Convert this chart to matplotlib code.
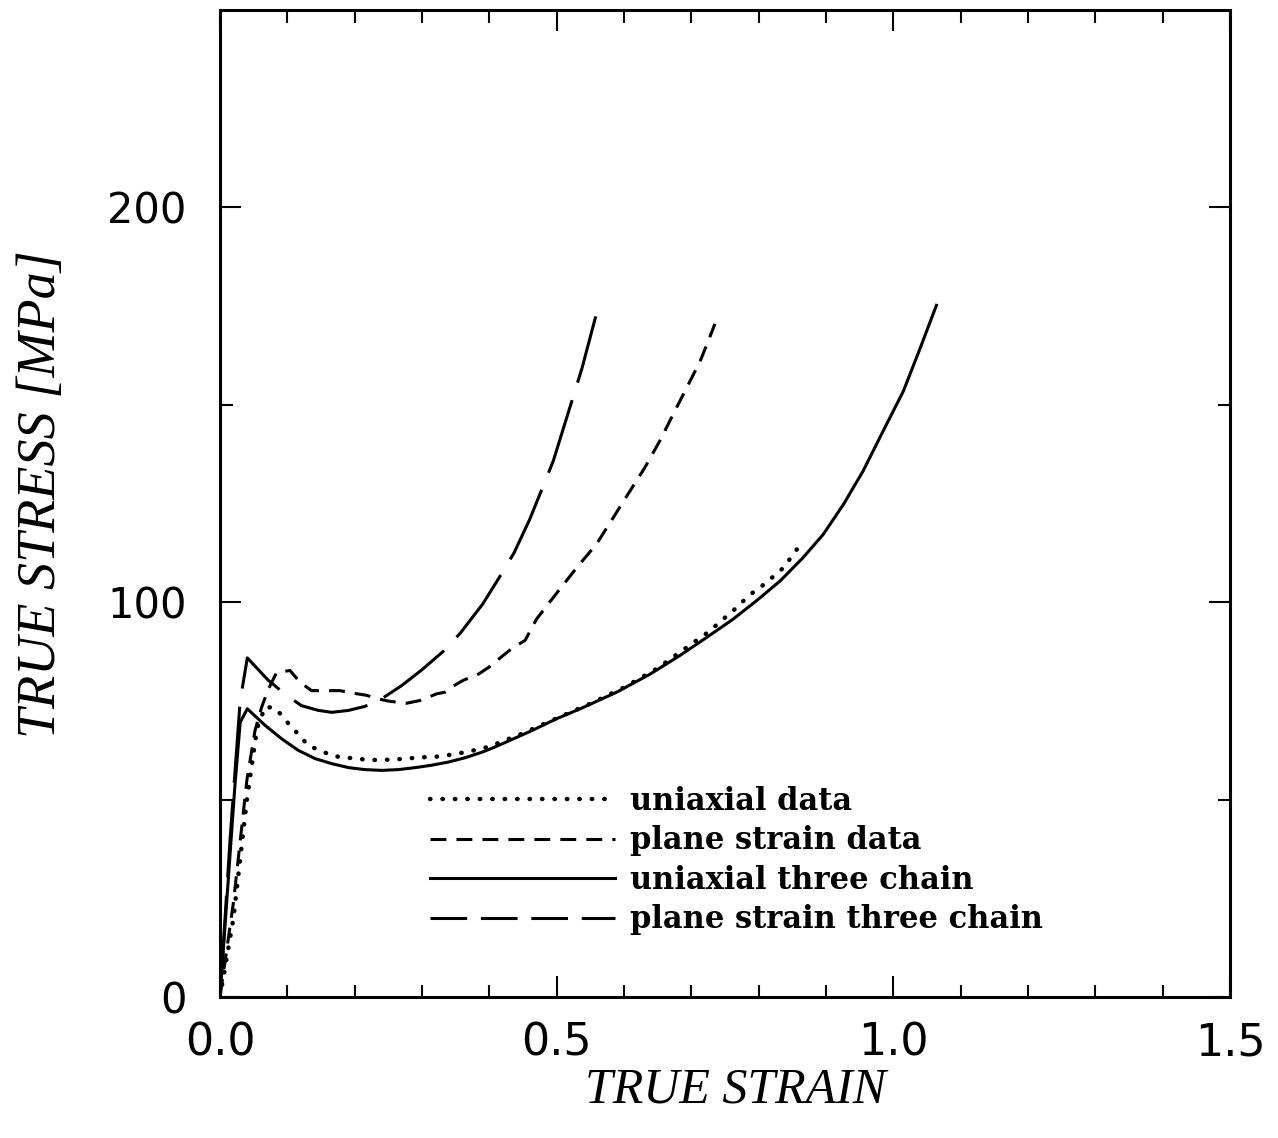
import matplotlib
matplotlib.use("Agg")
import numpy as np
import matplotlib.pyplot as plt
from matplotlib.ticker import MultipleLocator, FixedLocator
from matplotlib.lines import Line2D

# ---- data ----
uni_data_x = [0, 0.02, 0.04, 0.055, 0.067, 0.0817, 0.094, 0.106, 0.12, 0.13, 0.146, 0.166,
              0.183, 0.2, 0.22, 0.24, 0.257, 0.275, 0.292, 0.309, 0.324, 0.344, 0.364,
              0.389, 0.404, 0.45, 0.5, 0.55, 0.6, 0.65, 0.7, 0.725, 0.765, 0.787, 0.802,
              0.817, 0.838, 0.853, 0.866]
uni_data_y = [0, 20, 50, 68, 73.5, 73.2, 70.9, 68.3, 66, 63.8, 62.6, 61.2,
              60.6, 60.5, 60.0, 60.1, 60.1, 60.4, 60.6, 60.8, 60.9, 61.4, 62,
              62.9, 63.7, 66.8, 70.6, 74.3, 78.4, 83.3, 89.4, 92.4, 98.3, 101.9, 103.7,
              105.8, 108.9, 112.6, 115.3]

ps_data_x = [0, 0.02, 0.04, 0.052, 0.062, 0.072, 0.084, 0.104, 0.119, 0.136, 0.161, 0.178,
             0.2, 0.218, 0.235, 0.252, 0.277, 0.297, 0.322, 0.334, 0.344, 0.361, 0.384,
             0.399, 0.408, 0.436, 0.453, 0.47, 0.495, 0.53, 0.559, 0.584, 0.609, 0.631,
             0.653, 0.673, 0.693, 0.713, 0.725, 0.735]
ps_data_y = [0, 24, 55, 67.5, 73.5, 78, 82.2, 82.7, 79.7, 77.6, 77.6, 77.6,
             76.9, 76.4, 75.5, 74.9, 74.4, 75.1, 76.8, 77.2, 78.5, 80.2, 81.8,
             83.5, 84.8, 88.6, 90.3, 95.7, 101.2, 108.8, 114.7, 121.4, 128.2, 134.1,
             140.8, 147.6, 154.3, 161, 166.1, 170.5]

uni_model_x = [0, 0.022, 0.03, 0.0406, 0.067, 0.0916, 0.116, 0.141, 0.166, 0.191, 0.215,
               0.24, 0.265, 0.29, 0.314, 0.339, 0.364, 0.389, 0.408, 0.461, 0.5, 0.535,
               0.589, 0.639, 0.683, 0.723, 0.762, 0.797, 0.832, 0.866, 0.896, 0.926,
               0.955, 0.985, 1.015, 1.04, 1.064]
uni_model_y = [0, 53.2, 69.6, 73, 68.8, 65.4, 62.5, 60.4, 59.1, 58.1, 57.6,
               57.4, 57.6, 58.1, 58.7, 59.5, 60.6, 62, 63.3, 67.3, 70.5, 73,
               77.2, 81.8, 86.5, 91.1, 95.7, 100.4, 105.4, 111.3, 117.2, 124.8,
               133.2, 143.4, 153.5, 164.4, 175.2]

ps_model_x = [0, 0.015, 0.03, 0.0406, 0.0718, 0.099, 0.121, 0.146, 0.166, 0.191, 0.215,
              0.238, 0.27, 0.3, 0.334, 0.357, 0.39, 0.42, 0.437, 0.46, 0.483, 0.495,
              0.529, 0.538, 0.558]
ps_model_y = [0, 40, 75.1, 85.9, 80.2, 76.4, 73.8, 72.6, 72.1, 72.6, 73.6,
              75.3, 78.9, 82.9, 87.9, 92.2, 99.5, 107.7, 112.6, 121, 130.7, 135.8,
              154.5, 159.5, 172.4]

labels = ["uniaxial data", "plane strain data", "uniaxial three chain",
          "plane strain three chain"]
x_ticks = [0.0, 0.5, 1.0, 1.5]
x_ticklabels = ["0.0", "0.5", "1.0", "1.5"]
y_ticks = [0, 100, 200]
y_ticklabels = ["0", "100", "200"]

# ---- figure ----
W, H = 1278, 1138
DPI = 100
fig = plt.figure(figsize=(W / DPI, H / DPI), dpi=DPI)
ax = fig.add_axes([220 / W, (H - 997) / H, 1010 / W, 987 / H])
ax.set_xlim(0, 1.5)
ax.set_ylim(0, 250)

lw = 2.2


def end_on_dash(xs, ys, on, off):
    """Dash offset so that the dashed line finishes inside a dash."""
    pts = ax.transData.transform(np.column_stack([xs, ys]))
    length_px = np.sum(np.hypot(*np.diff(pts, axis=0).T))
    length_u = length_px * 72.0 / DPI / lw
    return (on * 0.9 - length_u) % (on + off)


dot_style = dict(color="black", lw=3.2, linestyle=(0, (0.1, 2.7)), dash_capstyle="round")
dash_style = dict(color="black", lw=lw, linestyle=(0, (5.2, 3.3)))
solid_style = dict(color="black", lw=lw, linestyle="-")

ax.plot(uni_data_x, uni_data_y, **dot_style)
ax.plot(ps_data_x, ps_data_y, color="black", lw=lw,
        linestyle=(end_on_dash(ps_data_x, ps_data_y, 5.2, 3.3), (5.2, 3.3)))
ax.plot(uni_model_x, uni_model_y, **solid_style)
ax.plot(ps_model_x, ps_model_y, color="black", lw=lw,
        linestyle=(end_on_dash(ps_model_x, ps_model_y, 25, 6), (25, 6)))

ax.xaxis.set_major_locator(FixedLocator(x_ticks))
ax.set_xticklabels(x_ticklabels)
ax.xaxis.set_minor_locator(MultipleLocator(0.1))
ax.yaxis.set_major_locator(FixedLocator(y_ticks))
ax.set_yticklabels(y_ticklabels)
ax.yaxis.set_minor_locator(FixedLocator([50, 150]))

ax.tick_params(which="both", direction="in", top=True, right=True, width=1.5, color="black")
ax.tick_params(which="major", length=15)
ax.tick_params(which="minor", length=9)
ax.tick_params(axis="x", which="major", labelsize=32, pad=18)
ax.tick_params(axis="y", which="major", labelsize=30, pad=24)
for lab in ax.get_xticklabels() + ax.get_yticklabels():
    lab.set_family("DejaVu Sans")

for s in ax.spines.values():
    s.set_linewidth(2.2)

ax.set_xlabel("TRUE STRAIN", fontsize=36, family="Liberation Serif", style="italic")
ax.xaxis.label.set_va("center")
ax.xaxis.set_label_coords(0.51, -0.094)
ax.set_ylabel("TRUE STRESS [MPa]", fontsize=39, family="Liberation Serif", style="italic")
ax.yaxis.label.set_va("center")
ax.yaxis.set_label_coords(-0.176, 0.51)

handles = [Line2D([], [], **dot_style),
           Line2D([], [], **dash_style),
           Line2D([], [], **solid_style),
           Line2D([], [], color="black", lw=lw, linestyle=(0, (12, 4.5)))]
ax.legend(handles, labels, loc="upper left", bbox_to_anchor=(0.208, 0.214), frameon=False,
          prop={"family": "DejaVu Serif", "weight": "bold", "size": 22},
          handlelength=6.05, handletextpad=0.5, labelspacing=0.28,
          borderpad=0, borderaxespad=0)

fig.savefig("out.png", dpi=DPI)
